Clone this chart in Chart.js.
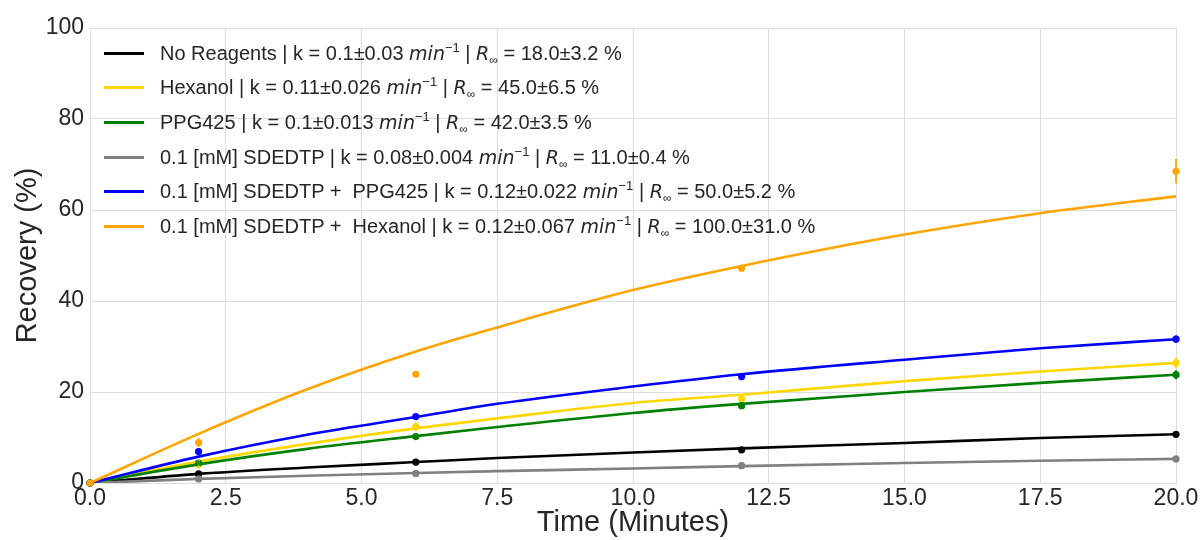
<!DOCTYPE html>
<html lang="en">

<head>
    <meta charset="UTF-8">
    <title>Recovery vs time</title>
    <script src="https://cdn.jsdelivr.net/npm/chart.js"></script>
    <style>
        body { margin: 0; background: #fff; font-family: "Liberation Sans", Arial, sans-serif; }
        #wrap { position: relative; width: 1201px; height: 540px; }
        #legend { position: absolute; left: 104px; top: 36px; font-size: 20px; color: #262626; }
        #legend .row { height: 34.6px; display: flex; align-items: center; white-space: nowrap; }
        #legend .swatch { width: 40px; height: 3px; margin-right: 16px; }
        #legend i { font-family: "DejaVu Sans", sans-serif; font-size: 19px; }
        #legend sup { font-size: 13px; vertical-align: 8px; line-height: 0; }
        #legend sub { font-size: 12px; vertical-align: -4px; line-height: 0; }
    </style>
</head>

<body>
    <div id="wrap">
        <canvas id="recoveryChart" width="1201" height="540"></canvas>
        <div id="legend"></div>
    </div>
    <script>
        // fitted curves
        const fitTimes = [0, 2, 4, 6, 7.5, 10, 12, 15, 17.5, 20];
        const fitNoReagents = [0, 2.0, 3.4, 4.6, 5.5, 6.7, 7.6, 8.8, 9.9, 10.7];
        const fitHexanol = [0, 4.7, 8.6, 12.0, 14.2, 17.6, 19.4, 22.4, 24.5, 26.4];
        const fitPPG = [0, 4.1, 7.5, 10.3, 12.3, 15.4, 17.4, 20.0, 22.0, 23.8];
        const fitSDEDTP = [0, 0.9, 1.6, 2.2, 2.6, 3.2, 3.7, 4.4, 4.9, 5.3];
        const fitSDEDTP_PPG = [0, 5.8, 10.6, 14.5, 17.4, 21.2, 23.9, 27.1, 29.6, 31.6];
        const fitSDEDTP_Hex = [0, 10.8, 20.6, 28.9, 34.2, 42.4, 47.7, 54.6, 59.3, 63.0];

        // measured points with error bars
        const sampleTimes = [0, 2, 6, 12, 20];
        const ptNoReagents = [0, 2.0, 4.6, 7.3, 10.7];
        const errNoReagents = [0, 0.3, 0.3, 0.4, 0.4];
        const ptHexanol = [0, 4.1, 12.4, 18.5, 26.4];
        const errHexanol = [0, 1.0, 1.0, 0.3, 1.2];
        const ptPPG = [0, 4.4, 10.2, 17.0, 23.8];
        const errPPG = [0, 0.5, 0.4, 0.5, 1.0];
        const ptSDEDTP = [0, 0.9, 2.1, 3.8, 5.3];
        const errSDEDTP = [0, 0.2, 0.2, 0.2, 0.2];
        const ptSDEDTP_PPG = [0, 6.9, 14.6, 23.4, 31.6];
        const errSDEDTP_PPG = [0, 0.4, 0.4, 0.6, 0.8];
        const ptSDEDTP_Hex = [0, 8.9, 23.9, 47.2, 68.5];
        const errSDEDTP_Hex = [0, 1.0, 0.4, 0.4, 2.7];

        const xTickValues = [0, 2.5, 5, 7.5, 10, 12.5, 15, 17.5, 20];
        const xTickLabels = ['0.0', '2.5', '5.0', '7.5', '10.0', '12.5', '15.0', '17.5', '20.0'];
        const yTickValues = [0, 20, 40, 60, 80, 100];
        const yTickLabels = ['0', '20', '40', '60', '80', '100'];

        const series = [
            { color: '#000000', fit: fitNoReagents, pts: ptNoReagents, err: errNoReagents,
              label: 'No Reagents | k = 0.1±0.03 <i>min</i><sup>−1</sup> | <i>R</i><sub>∞</sub> = 18.0±3.2 %' },
            { color: '#FFD700', fit: fitHexanol, pts: ptHexanol, err: errHexanol,
              label: 'Hexanol | k = 0.11±0.026 <i>min</i><sup>−1</sup> | <i>R</i><sub>∞</sub> = 45.0±6.5 %' },
            { color: '#008000', fit: fitPPG, pts: ptPPG, err: errPPG,
              label: 'PPG425 | k = 0.1±0.013 <i>min</i><sup>−1</sup> | <i>R</i><sub>∞</sub> = 42.0±3.5 %' },
            { color: '#808080', fit: fitSDEDTP, pts: ptSDEDTP, err: errSDEDTP,
              label: '0.1 [mM] SDEDTP | k = 0.08±0.004 <i>min</i><sup>−1</sup> | <i>R</i><sub>∞</sub> = 11.0±0.4 %' },
            { color: '#0000FF', fit: fitSDEDTP_PPG, pts: ptSDEDTP_PPG, err: errSDEDTP_PPG,
              label: '0.1 [mM] SDEDTP + &nbsp;PPG425 | k = 0.12±0.022 <i>min</i><sup>−1</sup> | <i>R</i><sub>∞</sub> = 50.0±5.2 %' },
            { color: '#FFA500', fit: fitSDEDTP_Hex, pts: ptSDEDTP_Hex, err: errSDEDTP_Hex,
              label: '0.1 [mM] SDEDTP + &nbsp;Hexanol | k = 0.12±0.067 <i>min</i><sup>−1</sup> | <i>R</i><sub>∞</sub> = 100.0±31.0 %' }
        ];

        const datasets = [];
        series.forEach((s, i) => {
            datasets.push({
                type: 'line',
                data: fitTimes.map((t, j) => ({ x: t, y: s.fit[j] })),
                borderColor: s.color,
                borderWidth: 2.6,
                pointRadius: 0,
                cubicInterpolationMode: 'monotone',
                order: 20 - i * 2
            });
            datasets.push({
                type: 'scatter',
                data: sampleTimes.map((t, j) => ({ x: t, y: s.pts[j] })),
                err: s.err,
                backgroundColor: s.color,
                borderColor: s.color,
                borderWidth: 0,
                pointRadius: 3.6,
                clip: false,
                order: 19 - i * 2
            });
        });

        // vertical error bars drawn through the scales
        const errorBars = {
            id: 'errorBars',
            afterDatasetsDraw(chart) {
                const { ctx, scales: { x, y } } = chart;
                chart.data.datasets.forEach(ds => {
                    if (!ds.err) return;
                    ctx.save();
                    ctx.strokeStyle = ds.borderColor;
                    ctx.lineWidth = 1.8;
                    ds.data.forEach((p, j) => {
                        if (!ds.err[j]) return;
                        const px = x.getPixelForValue(p.x);
                        ctx.beginPath();
                        ctx.moveTo(px, y.getPixelForValue(p.y - ds.err[j]));
                        ctx.lineTo(px, y.getPixelForValue(p.y + ds.err[j]));
                        ctx.stroke();
                    });
                    ctx.restore();
                });
            }
        };

        const tickFont = { family: '"Liberation Sans", Arial, sans-serif', size: 23 };
        const titleFont = { family: '"Liberation Sans", Arial, sans-serif', size: 29, lineHeight: 1 };

        new Chart(document.getElementById('recoveryChart'), {
            data: { datasets },
            plugins: [errorBars],
            options: {
                responsive: false,
                animation: false,
                layout: { padding: { top: 28, right: 25, left: 0, bottom: 0 } },
                plugins: { legend: { display: false }, tooltip: { enabled: false } },
                scales: {
                    x: {
                        type: 'linear', min: 0, max: 20,
                        afterBuildTicks: s => { s.ticks = xTickValues.map(v => ({ value: v })); },
                        afterFit: s => { s.height = 57; },
                        ticks: {
                            color: '#262626', font: tickFont, padding: 2, maxRotation: 0,
                            callback: (v, i) => xTickLabels[i]
                        },
                        grid: { color: '#dddddd', drawTicks: false },
                        border: { color: '#dddddd' },
                        title: { display: true, text: 'Time (Minutes)', color: '#262626', font: titleFont, padding: { bottom: 3, top: 0 } }
                    },
                    y: {
                        min: 0, max: 100,
                        afterBuildTicks: s => { s.ticks = yTickValues.map(v => ({ value: v })); },
                        afterFit: s => { s.width = 90; },
                        ticks: {
                            color: '#262626', font: tickFont, padding: 6,
                            callback: (v, i) => yTickLabels[i]
                        },
                        grid: { color: '#dddddd', drawTicks: false },
                        border: { color: '#dddddd' },
                        title: { display: true, text: 'Recovery (%)', color: '#262626', font: titleFont, padding: { top: 13, bottom: 0 } }
                    }
                }
            }
        });

        // legend with italic / super- and subscript parts
        const legend = document.getElementById('legend');
        series.forEach(s => {
            const row = document.createElement('div');
            row.className = 'row';
            row.innerHTML = '<span class="swatch" style="background:' + s.color + '"></span><span>' + s.label + '</span>';
            legend.appendChild(row);
        });
    </script>
</body>

</html>
